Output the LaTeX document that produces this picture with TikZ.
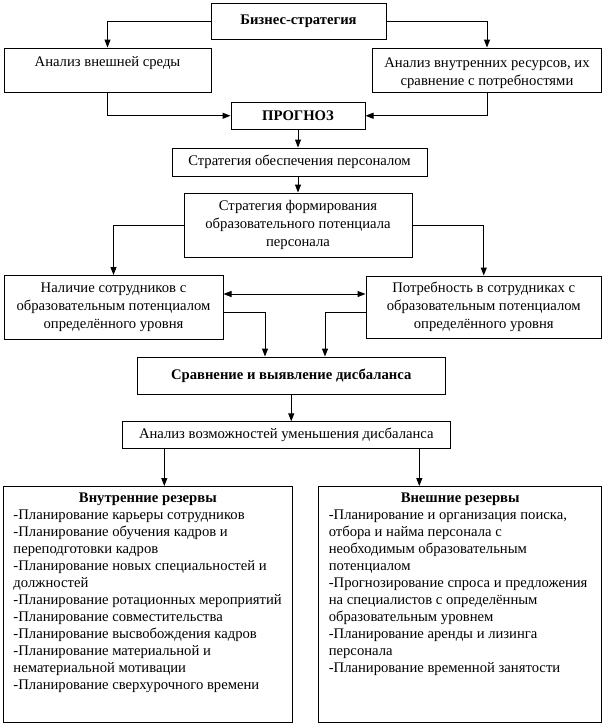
\documentclass[tikz,border=0pt]{standalone}
\usepackage{fontspec}
\setmainfont{Liberation Serif}
\usetikzlibrary{arrows.meta}
\newdimen\pxu \pxu=0.75pt
\begin{document}
\begin{tikzpicture}[x=0.75pt,y=-0.75pt,
  box/.style={draw, line width=0.75pt, inner sep=0pt, align=center, font=\fontsize{11}{13.5}\selectfont},
  bbox/.style={box, font=\fontsize{11}{13.5}\selectfont\bfseries},
  wh/.style 2 args={minimum width=#1*0.75pt, minimum height=#2*0.75pt},
  listbox/.style={draw, line width=0.75pt, inner sep=0pt, anchor=north west},
  arr/.style={line width=0.75pt, -{Triangle[length=6pt,width=4.5pt]}},
  darr/.style={line width=0.75pt, {Triangle[length=6pt,width=4.5pt]}-{Triangle[length=6pt,width=4.5pt]}}]
\useasboundingbox (0,0) rectangle (603,725);

\node[bbox, wh={175}{36}] (biz) at (298.5,21) {Бизнес-стратегия};
\node[box, wh={207}{44.5}] (ext) at (107.5,70.25) {\rule{0pt}{16\pxu}Анализ внешней среды\\\strut};
\node[box, wh={229}{44}] (int) at (487,70) {\rule{0pt}{16\pxu}Анализ внутренних ресурсов, их\\сравнение с потребностями};
\node[bbox, wh={134}{27.5}] (prog) at (298,115.75) {ПРОГНОЗ};
\node[box, wh={255}{28}] (obesp) at (299.5,162) {Стратегия обеспечения персоналом};
\node[box, wh={228}{64}] (form) at (298,225) {Стратегия формирования\\образовательного потенциала\\персонала};
\node[box, wh={219}{63.5}] (nal) at (113.5,307.25) {Наличие сотрудников с\\образовательным потенциалом\\определённого уровня};
\node[box, wh={235.5}{62.5}] (potr) at (483.75,307.25) {Потребность в сотрудниках с\\образовательным потенциалом\\определённого уровня};
\node[bbox, wh={307.5}{37}] (srav) at (291.25,375.5) {Сравнение и выявление дисбаланса};
\node[box, wh={327.3}{26.3}] (anal) at (286.35,435) {Анализ возможностей уменьшения дисбаланса};

\node[listbox] (lbox) at (3,486) {\parbox[c][236\pxu][t]{288.7\pxu}{\fontsize{11}{12.75}\selectfont\parindent=0pt\leftskip=10\pxu\rightskip=0pt plus 1fil\relax
\hspace*{-10\pxu}\makebox[288.7\pxu]{\rule{0pt}{16\pxu}\bfseries Внутренние резервы}\par
-Планирование карьеры сотрудников\par
-Планирование обучения кадров и\par
переподготовки кадров\par
-Планирование новых специальностей и\par
должностей\par
-Планирование ротационных мероприятий\par
-Планирование совместительства\par
-Планирование высвобождения кадров\par
-Планирование материальной и\par
нематериальной мотивации\par
-Планирование сверхурочного времени\par}};

\node[listbox] (rbox) at (318.3,486) {\parbox[c][236\pxu][t]{282.7\pxu}{\fontsize{11}{12.75}\selectfont\parindent=0pt\leftskip=10\pxu\rightskip=0pt plus 1fil\relax
\hspace*{-10\pxu}\makebox[282.7\pxu]{\rule{0pt}{16\pxu}\bfseries Внешние резервы}\par
-Планирование и организация поиска,\par
отбора и найма персонала с\par
необходимым образовательным\par
потенциалом\par
-Прогнозирование спроса и предложения\par
на специалистов с определённым\par
образовательным уровнем\par
-Планирование аренды и лизинга\par
персонала\par
-Планирование временной занятости\par}};

\coordinate (ydbl) at (0,294);
\coordinate (ycmp) at (0,312.3);
\coordinate (xl) at (265,0);
\coordinate (xr) at (325,0);
\coordinate (xa) at (164.3,0);
\coordinate (xb) at (419.3,0);

\draw[arr] (biz.west) -| (ext.north);
\draw[arr] (biz.east) -| (int.north);
\draw[arr] (ext.south) |- (prog.west);
\draw[arr] (int.south) |- (prog.east);
\draw[arr] (prog.south) -- (prog.south |- obesp.north);
\draw[arr] (obesp.south -| prog.south) -- (prog.south |- form.north);
\draw[arr] (form.west) -| (nal.north);
\draw[arr] (form.east) -| (potr.north);
\draw[darr] (nal.east |- ydbl) -- (potr.west |- ydbl);
\draw[arr] (nal.east |- ycmp) -| (srav.north -| xl);
\draw[arr] (potr.west |- ycmp) -| (srav.north -| xr);
\draw[arr] (srav.south) -- (srav.south |- anal.north);
\draw[arr] (anal.south -| xa) -- (lbox.north -| xa);
\draw[arr] (anal.south -| xb) -- (rbox.north -| xb);
\end{tikzpicture}
\end{document}
